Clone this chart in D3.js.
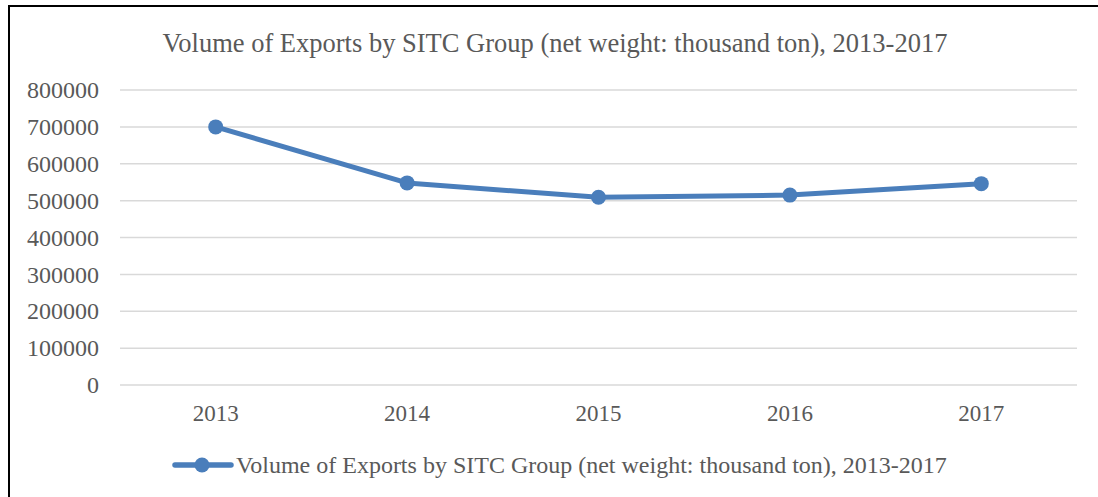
<!DOCTYPE html>
<html>
<head>
<meta charset="utf-8">
<script src="https://cdn.jsdelivr.net/npm/d3@7"></script>
<style>
  body { margin: 0; background: #fff; }
  svg text { font-family: "Liberation Serif", "Times New Roman", serif; fill: #595959; }
</style>
</head>
<body>
<div id="chart"></div>
<script>
// data
const years = ["2013", "2014", "2015", "2016", "2017"];
const volumes = [700000, 548000, 509000, 515000, 546000];
const yTicks = [0, 100000, 200000, 300000, 400000, 500000, 600000, 700000, 800000];
const title = "Volume of Exports by SITC Group (net weight: thousand ton), 2013-2017";

const W = 1098, H = 497;
const margin = { top: 90, right: 21, bottom: 112, left: 120 },
    width = W - margin.left - margin.right,
    height = H - margin.top - margin.bottom;

const svg = d3.select("#chart").append("svg")
    .attr("width", W)
    .attr("height", H);

// outer frame (top and left edges visible)
svg.append("line").attr("x1", 9).attr("x2", W).attr("y1", 6).attr("y2", 6)
    .attr("stroke", "#000").attr("stroke-width", 2);
svg.append("line").attr("x1", 9).attr("x2", 9).attr("y1", 5).attr("y2", H)
    .attr("stroke", "#000").attr("stroke-width", 2);

const g = svg.append("g")
    .attr("transform", "translate(" + margin.left + "," + margin.top + ")");

const x = d3.scaleBand()
    .domain(years)
    .range([0, width]);

const y = d3.scaleLinear()
    .domain([0, 800000])
    .range([height, 0]);

// gridlines
g.selectAll(".grid")
    .data(yTicks)
    .enter().append("line")
    .attr("x1", 0).attr("x2", width)
    .attr("y1", d => y(d)).attr("y2", d => y(d))
    .attr("stroke", "#d9d9d9")
    .attr("stroke-width", 1.5);

// y axis labels
const yAxis = g.append("g")
    .call(d3.axisLeft(y).tickValues(yTicks).tickSize(0).tickPadding(21).tickFormat(d3.format("d")))
    .attr("font-family", "Liberation Serif, serif")
    .attr("font-size", 24);
yAxis.select(".domain").remove();
yAxis.selectAll("text").attr("fill", "#595959");

// x axis labels
const xAxis = g.append("g")
    .attr("transform", "translate(0," + height + ")")
    .call(d3.axisBottom(x).tickSize(0).tickPadding(20))
    .attr("font-family", "Liberation Serif, serif")
    .attr("font-size", 23);
xAxis.select(".domain").remove();
xAxis.selectAll("text").attr("fill", "#595959");

const cx = d => x(d) + x.bandwidth() / 2;
const pts = years.map((yr, i) => [cx(yr), y(volumes[i])]);

g.append("path")
    .datum(pts)
    .attr("d", d3.line())
    .attr("fill", "none")
    .attr("stroke", "#4a7ebb")
    .attr("stroke-width", 5)
    .attr("stroke-linejoin", "round");

g.selectAll(".dot")
    .data(pts)
    .enter().append("circle")
    .attr("cx", d => d[0])
    .attr("cy", d => d[1])
    .attr("r", 7.5)
    .attr("fill", "#4a7ebb");

// title
svg.append("text")
    .attr("x", 555)
    .attr("y", 52)
    .attr("text-anchor", "middle")
    .style("font-size", "26.5px")
    .text(title);

// legend
const lg = svg.append("g").attr("transform", "translate(175,465)");
lg.append("line").attr("x1", 0).attr("x2", 56).attr("y1", 0).attr("y2", 0)
    .attr("stroke", "#4a7ebb").attr("stroke-width", 5.5).attr("stroke-linecap", "round");
lg.append("circle").attr("cx", 27).attr("cy", 0).attr("r", 7.5).attr("fill", "#4a7ebb");
lg.append("text")
    .attr("x", 61)
    .attr("y", 8)
    .style("font-size", "24px")
    .text(title);
</script>
</body>
</html>
